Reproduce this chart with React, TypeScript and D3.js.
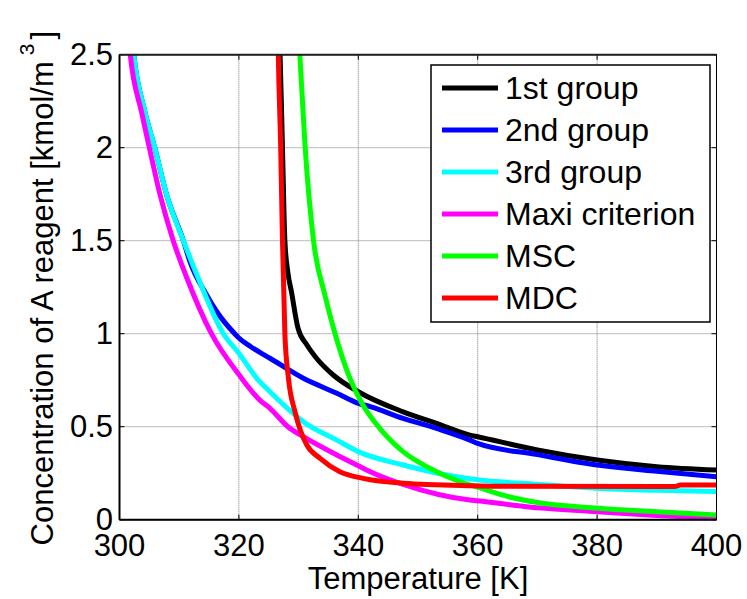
import React from "react";
import * as d3 from "d3";

// ---- data (Temperature [K], Concentration [kmol/m^3]) ----
const seriesNames = ["1st group", "2nd group", "3rd group", "Maxi criterion", "MSC", "MDC"];
const seriesColors = ["#000000", "#0000ff", "#00ffff", "#ff00ff", "#00ff00", "#ff0000"];

const group1T = [326.8, 326.9, 327.3, 327.7, 328.2, 328.8, 329.9, 331.4, 333.0, 335.8, 340, 347.5, 353.1, 358.7, 360, 370, 380, 390, 400];
const group1C = [2.6, 2.5, 2.0, 1.5, 1.33, 1.226, 1.03, 0.939, 0.868, 0.778, 0.688, 0.58, 0.518, 0.455, 0.446, 0.375, 0.321, 0.285, 0.267];

const group2T = [302.1, 302.4, 304.2, 305.9, 307.9, 310.7, 311.8, 314.6, 316.3, 319.3, 320, 322, 325.2, 330.8, 336.4, 340, 342, 347.5, 353.1, 358.7, 360, 370, 380, 390, 400];
const group2C = [2.6, 2.5, 2.2, 2.0, 1.746, 1.5, 1.387, 1.208, 1.118, 1.0, 0.977, 0.93, 0.868, 0.76, 0.68, 0.626, 0.608, 0.545, 0.491, 0.428, 0.41, 0.35, 0.294, 0.26, 0.231];

const group3T = [302.1, 302.4, 304.2, 305.9, 307.9, 310.7, 313.2, 317.4, 320, 323.0, 325.2, 328.8, 330.8, 336.4, 340, 347.5, 357, 360, 370, 380, 390, 400];
const group3C = [2.6, 2.5, 2.2, 2.0, 1.746, 1.5, 1.298, 1.0, 0.895, 0.76, 0.688, 0.58, 0.527, 0.428, 0.366, 0.294, 0.228, 0.215, 0.19, 0.169, 0.158, 0.151];

const maxiT = [301.5, 301.8, 303.7, 305.0, 306.8, 309.0, 311.3, 315.4, 320, 323.5, 325.2, 328.2, 330.8, 336.4, 340, 342, 347.5, 358.7, 360, 368.2, 380, 390, 400];
const maxiC = [2.6, 2.5, 2.19, 2.0, 1.746, 1.5, 1.298, 1.0, 0.78, 0.643, 0.599, 0.5, 0.446, 0.348, 0.29, 0.258, 0.19, 0.106, 0.102, 0.07, 0.043, 0.023, 0.008];

const mscT = [330.0, 330.2, 331.1, 332.5, 334.4, 336.1, 338.6, 340.6, 343.6, 347.5, 352, 357, 360, 365, 370, 380, 390, 400];
const mscC = [2.6, 2.5, 2.0, 1.5, 1.208, 1.0, 0.76, 0.626, 0.491, 0.366, 0.276, 0.205, 0.175, 0.125, 0.092, 0.062, 0.043, 0.025];

const mdcT = [326.5, 326.6, 327.0, 327.3, 327.7, 328.3, 329.4, 330.3, 331.4, 333.6, 336.9, 340.8, 347.5, 358.7, 365, 393, 394, 400];
const mdcC = [2.7, 2.5, 2.0, 1.5, 1.0, 0.76, 0.58, 0.48, 0.40, 0.33, 0.258, 0.222, 0.196, 0.183, 0.18, 0.178, 0.187, 0.187];

const allT = [group1T, group2T, group3T, maxiT, mscT, mdcT];
const allC = [group1C, group2C, group3C, maxiC, mscC, mdcC];

const xTicks = [300, 320, 340, 360, 380, 400];
const yTicks = [0, 0.5, 1, 1.5, 2, 2.5];
const yTickLabels = ["0", "0.5", "1", "1.5", "2", "2.5"];

const W = 747;
const H = 599;
const FONT = "'Liberation Sans', Arial, Helvetica, sans-serif";

export default function App() {
  const left = 119.5, right = 716.5, top = 54.7, bottom = 519.7;
  const x = d3.scaleLinear().domain([300, 400]).range([left, right]);
  const y = d3.scaleLinear().domain([0, 2.5]).range([bottom, top]);
  const line = d3
    .line<[number, number]>()
    .x((d) => x(d[0]))
    .y((d) => y(d[1]))
    .curve(d3.curveMonotoneX);

  const legX = 431, legY = 65, legW = 279, legH = 257;
  const rowY0 = 88, rowStep = 42;

  return (
    <svg
      width={W}
      height={H}
      style={{ position: "absolute", left: 0, top: 0, background: "#fff" }}
      fontFamily={FONT}
    >
      <defs>
        <clipPath id="plotClip">
          <rect x={left} y={top} width={right - left} height={bottom - top} />
        </clipPath>
      </defs>
      <rect x={0} y={0} width={W} height={H} fill="#fff" />

      {/* grid */}
      {xTicks.slice(1, -1).map((t) => (
        <line key={"gx" + t} x1={x(t)} x2={x(t)} y1={top} y2={bottom} stroke="#7a7a7a" strokeWidth={1} strokeDasharray="1 1" />
      ))}
      {yTicks.slice(1, -1).map((t) => (
        <line key={"gy" + t} x1={left} x2={right} y1={y(t)} y2={y(t)} stroke="#7a7a7a" strokeWidth={1} strokeDasharray="1 1" />
      ))}

      {/* curves */}
      <g clipPath="url(#plotClip)">
        {allT.map((ts, i) => {
          const pts: [number, number][] = ts.map((t, j) => [t, allC[i][j]]);
          return (
            <path key={i} d={line(pts) || ""} fill="none" stroke={seriesColors[i]} strokeWidth={5} strokeLinejoin="round" strokeLinecap="round" />
          );
        })}
      </g>

      {/* ticks (inward, all four sides) */}
      {xTicks.map((t) => (
        <g key={"tx" + t}>
          <line x1={x(t)} x2={x(t)} y1={bottom} y2={bottom - 5} stroke="#000" strokeWidth={1} />
          <line x1={x(t)} x2={x(t)} y1={top} y2={top + 5} stroke="#000" strokeWidth={1} />
        </g>
      ))}
      {yTicks.map((t) => (
        <g key={"ty" + t}>
          <line x1={left} x2={left + 5} y1={y(t)} y2={y(t)} stroke="#000" strokeWidth={1} />
          <line x1={right} x2={right - 5} y1={y(t)} y2={y(t)} stroke="#000" strokeWidth={1} />
        </g>
      ))}

      {/* axes box */}
      <rect x={left} y={top} width={right - left} height={bottom - top} fill="none" stroke="#000" strokeWidth={1} />
      <line x1={left} x2={right} y1={bottom} y2={bottom} stroke="#000" strokeWidth={2} />
      <line x1={left} x2={left} y1={top} y2={bottom} stroke="#000" strokeWidth={2} />
      <line x1={left} x2={right} y1={top} y2={top} stroke="#222" strokeWidth={2} />

      {/* tick labels */}
      {xTicks.map((t) => (
        <text key={"lx" + t} x={x(t)} y={556} fontSize={31} textAnchor="middle" fill="#000">
          {t}
        </text>
      ))}
      {yTicks.map((t, i) => (
        <text key={"ly" + t} x={113} y={y(t) + 10} fontSize={31} textAnchor="end" fill="#000">
          {yTickLabels[i]}
        </text>
      ))}

      {/* axis titles */}
      <text x={(left + right) / 2} y={589} fontSize={31} textAnchor="middle" fill="#000">
        Temperature [K]
      </text>
      <text transform={`translate(53, ${(top + bottom) / 2 + 1}) rotate(-90)`} fontSize={31} textAnchor="middle" fill="#000">
        Concentration of A reagent [kmol/m
        <tspan fontSize={21} dy={-19} dx={6}>3</tspan>
        <tspan dy={19} dx={4}>]</tspan>
      </text>

      {/* legend */}
      <rect x={legX} y={legY} width={legW} height={legH} fill="#fff" stroke="#000" strokeWidth={1.5} />
      {seriesNames.map((name, i) => {
        const ry = rowY0 + i * rowStep;
        return (
          <g key={"leg" + i}>
            <line x1={442} x2={498} y1={ry} y2={ry} stroke={seriesColors[i]} strokeWidth={5} />
            <text x={505} y={ry + 11} fontSize={32} fill="#000">
              {name}
            </text>
          </g>
        );
      })}
    </svg>
  );
}
